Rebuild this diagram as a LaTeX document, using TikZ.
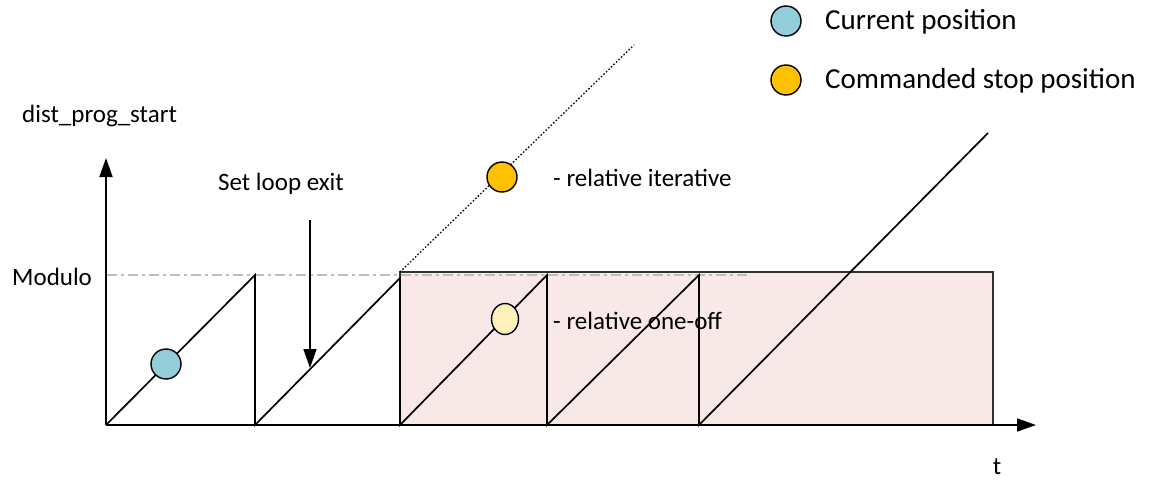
\documentclass[tikz,border=0pt]{standalone}
\usepackage{fontspec}
\setmainfont{Carlito}
\usetikzlibrary{arrows.meta,shapes.geometric}
\definecolor{curblue}{RGB}{146,205,220}
\definecolor{stoporange}{RGB}{255,192,0}
\definecolor{paleyellow}{RGB}{255,239,186}
\definecolor{pinkfill}{RGB}{248,232,232}
\definecolor{modgray}{RGB}{190,190,190}
\definecolor{rectedge}{RGB}{50,50,50}
\begin{document}
\begin{tikzpicture}[x=1pt,y=-1pt,
  saw/.style={line width=1.7pt, black, line join=miter},
  axis/.style={line width=1.8pt, black, -{Triangle[length=19pt,width=13pt]}},
  dot/.style={circle, draw=black, line width=1.4pt, minimum size=30pt, inner sep=0pt},
  lbl/.style={font=\fontsize{25}{28}\selectfont, inner sep=0pt, text=black},
  leglbl/.style={font=\fontsize{29}{32}\selectfont, inner sep=0pt, text=black}]
\useasboundingbox (0,0) rectangle (1158,479);
% shaded region
\coordinate (r1) at (400,272);
\coordinate (r2) at (993,425);
\fill[pinkfill] (r1) rectangle (r2);
% modulo line
\coordinate (m1) at (107,275);
\coordinate (m2) at (748,275);
\draw[modgray, line width=1.4pt, dash pattern=on 10pt off 4pt on 3pt off 4pt] (m1) -- (m2);
\draw[rectedge, line width=1.8pt] (r1) rectangle (r2);
% texts
\node[lbl, anchor=west] (ylab) at (22,116) {dist\_prog\_start};
\node[lbl, anchor=west] (modlab) at (12,277) {Modulo};
\node[lbl] (setlab) at (281,184) {Set loop exit};
\node[lbl] (tlab) at (997,467) {t};
\node[lbl, anchor=west] (iterlab) at (553,178) {- relative iterative};
\node[lbl, anchor=west] (onelab) at (553,321) {- relative one-off};
\node[leglbl, anchor=west] (leg1) at (825,22) {Current position};
\node[leglbl, anchor=west] (leg2) at (825,81) {Commanded stop position};
% axes
\coordinate (O) at (106,425);
\coordinate (Ytip) at (106,158);
\coordinate (Xtip) at (1036,425);
\draw[axis] (O) -- (Ytip);
\draw[axis] (O) -- (Xtip);
% sawtooth
\coordinate (p1) at (255,275);
\coordinate (b1) at (255,425);
\coordinate (p2) at (400,278);
\coordinate (b2) at (400,425);
\coordinate (p3) at (547,275);
\coordinate (b3) at (547,425);
\coordinate (p4) at (699,275);
\coordinate (b4) at (699,425);
\coordinate (e5) at (988,133);
\draw[saw] (O) -- (p1) -- (b1) -- (p2) -- (b2) -- (p3) -- (b3) -- (p4) -- (b4) -- (e5);
% dotted continuation
\coordinate (d2) at (634,45);
\draw[black, line width=1.3pt, dash pattern=on 1.5pt off 2pt] (r1) -- (d2);
% set loop exit arrow
\coordinate (s1) at (310,220);
\coordinate (s2) at (310,368);
\draw[axis, line width=1.6pt] (s1) -- (s2);
% markers
\node[dot, fill=curblue] (cur) at (166,364) {};
\node[dot, fill=stoporange] (iter) at (502,177) {};
\node[ellipse, draw=black, line width=1.4pt, minimum width=27pt, minimum height=31pt, inner sep=0pt, fill=paleyellow] (one) at (505,319) {};
\node[dot, fill=curblue] (legc1) at (786,21) {};
\node[dot, fill=stoporange] (legc2) at (786,80) {};
\end{tikzpicture}
\end{document}
